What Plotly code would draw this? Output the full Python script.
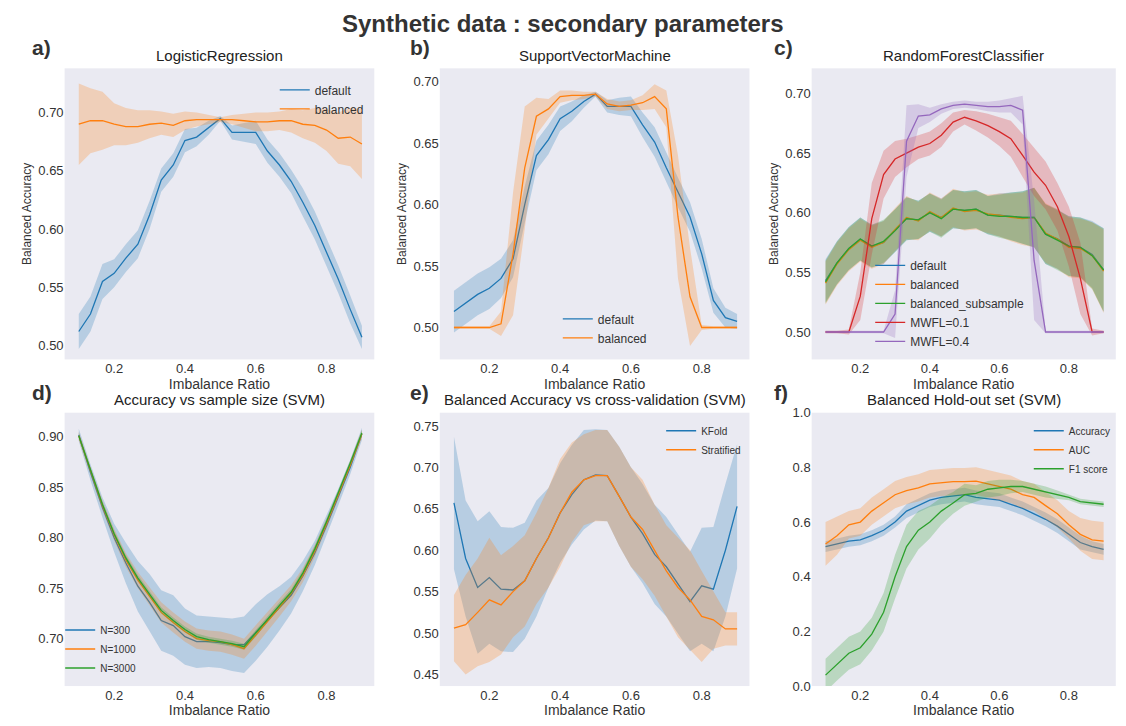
import plotly.graph_objects as go

x = [0.1,0.133,0.167,0.2,0.233,0.267,0.3,0.333,0.367,0.4,0.433,0.467,0.5,0.533,0.567,0.6,0.633,0.667,0.7,0.733,0.767,0.8,0.833,0.867,0.9]

# a) LogisticRegression
lr_default = [0.512,0.527,0.555,0.562,0.575,0.587,0.612,0.642,0.655,0.676,0.679,0.687,0.695,0.683,0.683,0.683,0.667,0.655,0.641,0.623,0.603,0.580,0.557,0.531,0.507]
lr_default_err = [0.015,0.015,0.015,0.012,0.012,0.012,0.012,0.01,0.01,0.01,0.008,0.006,0.002,0.006,0.008,0.01,0.01,0.01,0.01,0.012,0.012,0.012,0.012,0.012,0.01]
lr_bal = [0.690,0.693,0.693,0.690,0.688,0.688,0.690,0.691,0.689,0.693,0.694,0.694,0.694,0.694,0.693,0.692,0.692,0.693,0.693,0.690,0.689,0.685,0.678,0.679,0.673]
lr_bal_err = [0.035,0.028,0.025,0.018,0.016,0.014,0.012,0.01,0.01,0.008,0.006,0.004,0.002,0.004,0.006,0.008,0.008,0.008,0.01,0.012,0.015,0.018,0.022,0.025,0.03]

# b) SVM
svm_default = [0.513,0.520,0.527,0.532,0.540,0.556,0.600,0.640,0.653,0.670,0.676,0.684,0.690,0.680,0.680,0.680,0.665,0.651,0.630,0.610,0.590,0.560,0.522,0.508,0.505]
svm_default_err = [0.017,0.017,0.017,0.017,0.016,0.015,0.015,0.012,0.012,0.01,0.008,0.005,0.002,0.005,0.007,0.008,0.01,0.012,0.012,0.012,0.012,0.012,0.01,0.008,0.006]
svm_bal = [0.500,0.500,0.500,0.500,0.503,0.560,0.630,0.672,0.678,0.688,0.689,0.689,0.690,0.682,0.680,0.681,0.683,0.688,0.678,0.590,0.525,0.500,0.500,0.500,0.500]
svm_bal_err = [0.001,0.001,0.001,0.001,0.01,0.05,0.05,0.015,0.008,0.005,0.004,0.003,0.002,0.004,0.004,0.004,0.006,0.01,0.015,0.05,0.04,0.002,0.001,0.001,0.001]

# c) RandomForest
rf_default = [0.543,0.558,0.570,0.578,0.572,0.575,0.585,0.595,0.594,0.600,0.596,0.603,0.602,0.603,0.598,0.598,0.597,0.596,0.596,0.582,0.578,0.572,0.571,0.565,0.552]
rf_bal = [0.541,0.557,0.569,0.577,0.571,0.575,0.586,0.596,0.593,0.601,0.596,0.604,0.601,0.602,0.599,0.598,0.596,0.595,0.596,0.583,0.578,0.571,0.570,0.564,0.551]
rf_bsub = [0.542,0.558,0.570,0.578,0.572,0.576,0.585,0.595,0.594,0.600,0.595,0.603,0.602,0.603,0.598,0.597,0.597,0.596,0.596,0.582,0.577,0.572,0.571,0.564,0.552]
rf_err = [0.018,0.018,0.018,0.018,0.018,0.018,0.018,0.018,0.016,0.016,0.016,0.016,0.016,0.016,0.016,0.018,0.02,0.022,0.025,0.025,0.025,0.025,0.025,0.028,0.035]
rf_mwfl1 = [0.500,0.500,0.500,0.530,0.595,0.632,0.645,0.650,0.655,0.658,0.665,0.676,0.680,0.677,0.673,0.668,0.662,0.648,0.634,0.623,0.605,0.580,0.545,0.500,0.500]
rf_mwfl1_err = [0.001,0.001,0.002,0.02,0.03,0.02,0.015,0.012,0.01,0.01,0.01,0.008,0.006,0.008,0.01,0.012,0.015,0.018,0.02,0.02,0.02,0.025,0.03,0.003,0.001]
rf_mwfl4 = [0.500,0.500,0.500,0.500,0.500,0.500,0.515,0.660,0.681,0.682,0.687,0.690,0.691,0.690,0.689,0.689,0.690,0.686,0.560,0.500,0.500,0.500,0.500,0.500,0.500]
rf_mwfl4_err = [0.001,0.001,0.001,0.001,0.001,0.001,0.02,0.03,0.01,0.006,0.004,0.003,0.003,0.003,0.004,0.005,0.006,0.012,0.05,0.001,0.001,0.001,0.001,0.001,0.001]

# d) sample size
n300 = [0.902,0.865,0.830,0.800,0.775,0.752,0.736,0.718,0.713,0.702,0.697,0.697,0.696,0.694,0.694,0.706,0.718,0.730,0.743,0.762,0.785,0.812,0.840,0.870,0.903]
n300_err = [0.006,0.008,0.01,0.014,0.02,0.025,0.028,0.03,0.03,0.028,0.026,0.025,0.025,0.026,0.028,0.028,0.026,0.022,0.018,0.015,0.012,0.01,0.008,0.007,0.006]
n1000 = [0.901,0.866,0.832,0.803,0.778,0.758,0.742,0.726,0.716,0.707,0.700,0.698,0.697,0.694,0.690,0.703,0.717,0.731,0.745,0.763,0.787,0.814,0.842,0.872,0.903]
n1000_err = [0.004,0.004,0.005,0.006,0.007,0.008,0.009,0.01,0.01,0.01,0.01,0.01,0.01,0.01,0.01,0.01,0.01,0.009,0.008,0.007,0.006,0.005,0.004,0.004,0.004]
n3000 = [0.901,0.867,0.833,0.804,0.780,0.760,0.744,0.728,0.718,0.709,0.702,0.699,0.697,0.695,0.692,0.705,0.719,0.733,0.746,0.765,0.789,0.816,0.844,0.874,0.904]
n3000_err = [0.003,0.003,0.003,0.003,0.003,0.003,0.003,0.003,0.003,0.003,0.003,0.003,0.003,0.003,0.003,0.003,0.003,0.003,0.003,0.003,0.003,0.003,0.003,0.003,0.003]

# e) cross-validation
kfold = [0.657,0.590,0.555,0.567,0.553,0.552,0.563,0.590,0.615,0.645,0.667,0.685,0.691,0.690,0.665,0.640,0.620,0.595,0.580,0.560,0.538,0.557,0.553,0.600,0.653]
kfold_err = [0.08,0.07,0.08,0.08,0.075,0.075,0.07,0.07,0.06,0.06,0.06,0.06,0.055,0.055,0.06,0.06,0.06,0.06,0.06,0.06,0.06,0.07,0.075,0.08,0.075]
strat = [0.506,0.510,0.525,0.540,0.534,0.550,0.563,0.590,0.615,0.645,0.670,0.685,0.690,0.690,0.665,0.640,0.625,0.600,0.575,0.555,0.540,0.520,0.516,0.505,0.505]
strat_err = [0.04,0.06,0.065,0.075,0.06,0.055,0.055,0.055,0.06,0.065,0.06,0.055,0.055,0.055,0.06,0.06,0.06,0.055,0.055,0.06,0.06,0.055,0.035,0.02,0.02]

# f) hold-out
acc = [0.510,0.520,0.530,0.535,0.550,0.570,0.600,0.640,0.660,0.680,0.690,0.695,0.700,0.690,0.685,0.680,0.665,0.650,0.630,0.610,0.585,0.555,0.525,0.510,0.500]
acc_err = [0.02,0.02,0.02,0.02,0.02,0.02,0.02,0.025,0.025,0.025,0.025,0.025,0.025,0.025,0.025,0.025,0.025,0.025,0.025,0.025,0.025,0.025,0.025,0.02,0.02]
auc = [0.520,0.550,0.590,0.600,0.640,0.670,0.700,0.715,0.725,0.740,0.745,0.748,0.748,0.750,0.740,0.730,0.720,0.700,0.690,0.660,0.630,0.590,0.555,0.535,0.530]
auc_err = [0.08,0.07,0.05,0.05,0.05,0.05,0.05,0.05,0.05,0.05,0.05,0.05,0.05,0.05,0.05,0.05,0.05,0.05,0.05,0.05,0.05,0.05,0.06,0.07,0.07]
f1 = [0.040,0.080,0.120,0.140,0.190,0.270,0.400,0.510,0.570,0.600,0.640,0.670,0.700,0.705,0.720,0.725,0.730,0.730,0.720,0.710,0.700,0.690,0.675,0.670,0.665]
f1_err = [0.06,0.06,0.06,0.06,0.06,0.07,0.08,0.08,0.07,0.06,0.05,0.04,0.04,0.03,0.03,0.03,0.025,0.02,0.02,0.02,0.015,0.01,0.01,0.01,0.01]

BLUE, ORANGE, GREEN, RED, PURPLE = "#1f77b4", "#ff7f0e", "#2ca02c", "#d62728", "#9467bd"
def rgba(h, a):
    h = h.lstrip('#'); return f"rgba({int(h[0:2],16)},{int(h[2:4],16)},{int(h[4:6],16)},{a})"

fig = go.Figure()
xd = {1: [0.051, 0.330], 2: [0.389, 0.668], 3: [0.724, 0.998]}
top = [0.505, 0.915]; bot = [0.045, 0.43]

def add(idx, y, err, color, name, legend):
    lo = [a - e for a, e in zip(y, err)]; hi = [a + e for a, e in zip(y, err)]
    xa = "x" if idx == 1 else f"x{idx}"; ya = "y" if idx == 1 else f"y{idx}"
    fig.add_trace(go.Scatter(x=x + x[::-1], y=hi + lo[::-1], fill="toself", fillcolor=rgba(color, 0.25),
                             line=dict(width=0), hoverinfo="skip", showlegend=False, xaxis=xa, yaxis=ya))
    fig.add_trace(go.Scatter(x=x, y=y, mode="lines", line=dict(color=color, width=1.3), name=name,
                             xaxis=xa, yaxis=ya, legend=legend))

add(1, lr_default, lr_default_err, BLUE, "default", "legend")
add(1, lr_bal, lr_bal_err, ORANGE, "balanced", "legend")
add(2, svm_default, svm_default_err, BLUE, "default", "legend2")
add(2, svm_bal, svm_bal_err, ORANGE, "balanced", "legend2")
add(3, rf_default, rf_err, BLUE, "default", "legend3")
add(3, rf_bal, rf_err, ORANGE, "balanced", "legend3")
add(3, rf_bsub, rf_err, GREEN, "balanced_subsample", "legend3")
add(3, rf_mwfl1, rf_mwfl1_err, RED, "MWFL=0.1", "legend3")
add(3, rf_mwfl4, rf_mwfl4_err, PURPLE, "MWFL=0.4", "legend3")
add(4, n300, n300_err, BLUE, "N=300", "legend4")
add(4, n1000, n1000_err, ORANGE, "N=1000", "legend4")
add(4, n3000, n3000_err, GREEN, "N=3000", "legend4")
add(5, kfold, kfold_err, BLUE, "KFold", "legend5")
add(5, strat, strat_err, ORANGE, "Stratified", "legend5")
add(6, acc, acc_err, BLUE, "Accuracy", "legend6")
add(6, auc, auc_err, ORANGE, "AUC", "legend6")
add(6, f1, f1_err, GREEN, "F1 score", "legend6")

ranges = {1: [0.488, 0.738], 2: [0.474, 0.711], 3: [0.477, 0.721], 4: [0.653, 0.924], 5: [0.436, 0.766], 6: [0, 1.0]}
yticks = {1: [0.5,0.55,0.6,0.65,0.7], 2: [0.5,0.55,0.6,0.65,0.7], 3: [0.5,0.55,0.6,0.65,0.7],
          4: [0.7,0.75,0.8,0.85,0.9], 5: [0.45,0.5,0.55,0.6,0.65,0.7,0.75], 6: [0,0.2,0.4,0.6,0.8,1.0]}
layout = {}
for i in range(1, 7):
    col = (i - 1) % 3 + 1
    dom_y = top if i <= 3 else bot
    sfx = "" if i == 1 else str(i)
    layout[f"xaxis{sfx}"] = dict(domain=xd[col], anchor=f"y{sfx}", range=[0.06, 0.935], automargin=False,
                                 tickvals=[0.2,0.4,0.6,0.8], showgrid=False, zeroline=False,
                                 title=dict(text="Imbalance Ratio", standoff=0, font=dict(size=14)), ticks="")
    ya = dict(domain=dom_y, anchor=f"x{sfx}", range=ranges[i], tickvals=yticks[i], showgrid=False, automargin=False,
              zeroline=False, ticks="", tickformat=".1f" if i == 6 else ".2f")
    if i <= 3:
        ya["title"] = dict(text="Balanced Accuracy", standoff=4, font=dict(size=12))
    layout[f"yaxis{sfx}"] = ya

fig.update_layout(**layout)
fig.update_layout(margin=dict(l=0, r=0, t=0, b=0), autosize=True,
                  paper_bgcolor="white", plot_bgcolor="#EAEAF2",
                  font=dict(family="Liberation Sans, Arial", size=13, color="#333"))

leg = dict(bgcolor="rgba(0,0,0,0)", font=dict(size=12), xanchor="right", yanchor="top", tracegroupgap=0)
fig.update_layout(
    legend=dict(leg, x=0.325, y=0.905),
    legend2=dict(leg, x=0.58, y=0.515, yanchor="bottom"),
    legend3=dict(leg, x=0.92, y=0.51, yanchor="bottom"),
    legend4=dict(leg, x=0.12, y=0.05, yanchor="bottom", font=dict(size=10)),
    legend5=dict(leg, x=0.665, y=0.425, font=dict(size=10)),
    legend6=dict(leg, x=0.998, y=0.425, font=dict(size=10)),
)

ann = [dict(text="<b>Synthetic data : secondary parameters</b>", x=0.5, y=1.0, xref="paper", yref="paper",
            xanchor="center", yanchor="top", showarrow=False, font=dict(size=24, color="#333"))]
titles = ["LogisticRegression", "SupportVectorMachine", "RandomForestClassifier",
          "Accuracy vs sample size (SVM)", "Balanced Accuracy vs cross-validation (SVM)", "Balanced Hold-out set (SVM)"]
letters = ["a)", "b)", "c)", "d)", "e)", "f)"]
lx = [0.02, 0.36, 0.688]
for i in range(6):
    col = i % 3 + 1
    dy = top if i < 3 else bot
    ann.append(dict(text=titles[i], x=sum(xd[col]) / 2, y=dy[1] + 0.004, xref="paper", yref="paper",
                    xanchor="center", yanchor="bottom", showarrow=False, font=dict(size=15, color="#222")))
    ann.append(dict(text=f"<b>{letters[i]}</b>", x=lx[col - 1], y=dy[1] + 0.048,
                    xref="paper", yref="paper", xanchor="left", yanchor="top", showarrow=False,
                    font=dict(size=21, color="#333")))
fig.update_layout(annotations=ann)
fig.write_html("out.html")
